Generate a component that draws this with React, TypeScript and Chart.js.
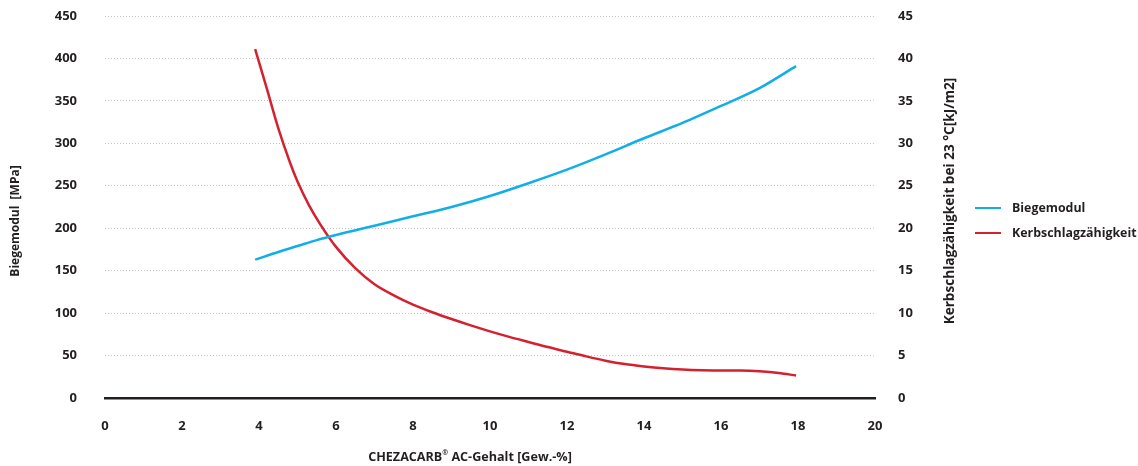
import React, { useEffect, useRef } from "react";
import { Chart, registerables } from "chart.js";

Chart.register(...registerables);

const biegeX = [3.9, 4.5, 5.0, 5.5, 6.0, 7.0, 8.0, 9.0, 10.0, 11.0, 12.0, 13.0, 14.0, 15.0, 16.0, 17.0, 17.95];
const biegeY = [163, 172, 179, 186, 192, 203, 214, 225, 238, 253, 269, 287, 306, 324, 344, 365, 391];

const kerbX = [3.9, 4.2, 4.5, 4.8, 5.0, 5.3, 5.6, 6.0, 6.5, 7.0, 7.5, 8.0, 8.5, 9.0, 9.5, 10.0, 10.5, 11.0, 11.5, 12.0, 12.5, 13.0, 13.5, 14.0, 14.5, 15.0, 15.5, 16.0, 16.5, 17.0, 17.5, 17.95];
const kerbY = [41.1, 36.5, 31.8, 27.8, 25.5, 22.7, 20.4, 17.8, 15.3, 13.4, 12.1, 11.0, 10.1, 9.3, 8.55, 7.85, 7.2, 6.6, 6.0, 5.45, 4.9, 4.4, 4.0, 3.72, 3.5, 3.35, 3.27, 3.25, 3.24, 3.15, 2.95, 2.65];

const seriesNames = ["Biegemodul", "Kerbschlagzähigkeit"];
const leftTitle = "Biegemodul  [MPa]";
const rightTitle = "Kerbschlagzähigkeit bei 23 °C[kJ/m2]";
const xTitleParts = ["CHEZACARB", "®", " AC-Gehalt [Gew.-%]"];

const BLUE = "#12aee8";
const RED = "#d42130";
const TEXT = "#231f20";
const FONT = "'Open Sans'";

const extrasPlugin = {
  id: "extras",
  afterDraw(chart: any) {
    const ctx = chart.ctx;
    ctx.save();
    ctx.fillStyle = TEXT;
    ctx.textBaseline = "middle";
    ctx.textAlign = "center";
    ctx.font = `bold 12px ${FONT}`;
    ctx.save();
    ctx.translate(16, 221);
    ctx.rotate(-Math.PI / 2);
    ctx.fillText(leftTitle, 0, 0);
    ctx.restore();
    ctx.font = `bold 13.6px ${FONT}`;
    ctx.save();
    ctx.translate(950, 201);
    ctx.rotate(-Math.PI / 2);
    ctx.fillText(rightTitle, 0, 0);
    ctx.restore();
    ctx.textAlign = "left";
    const big = `bold 12.6px ${FONT}`;
    const small = `bold 7px ${FONT}`;
    ctx.font = big;
    const w0 = ctx.measureText(xTitleParts[0]).width;
    const w2 = ctx.measureText(xTitleParts[2]).width;
    ctx.font = small;
    const w1 = ctx.measureText(xTitleParts[1]).width;
    const total = w0 + w1 + w2;
    let x = 470 - total / 2;
    const y = 457;
    ctx.font = big;
    ctx.fillText(xTitleParts[0], x, y);
    x += w0;
    ctx.font = small;
    ctx.fillText(xTitleParts[1], x, y - 4);
    x += w1;
    ctx.font = big;
    ctx.fillText(xTitleParts[2], x, y);
    const colors = [BLUE, RED];
    const ys = [208, 233];
    ctx.font = `bold 12.4px ${FONT}`;
    for (let i = 0; i < seriesNames.length; i++) {
      ctx.strokeStyle = colors[i];
      ctx.lineWidth = 2;
      ctx.beginPath();
      ctx.moveTo(975, ys[i]);
      ctx.lineTo(1001, ys[i]);
      ctx.stroke();
      ctx.fillStyle = TEXT;
      ctx.fillText(seriesNames[i], 1012, ys[i]);
    }
    ctx.restore();
  },
};

export default function App() {
  const ref = useRef<HTMLCanvasElement | null>(null);
  useEffect(() => {
    document.body.style.margin = "0";
    document.body.style.overflow = "hidden";
    const canvas = ref.current!;
    const tickFont = { family: FONT, weight: "bold", size: 13 };
    const chart = new Chart(canvas, {
      type: "line",
      data: {
        datasets: [
          {
            label: seriesNames[0],
            data: biegeX.map((x, i) => ({ x, y: biegeY[i] })),
            borderColor: BLUE,
            backgroundColor: BLUE,
            borderWidth: 2.5,
            pointRadius: 0,
            cubicInterpolationMode: "monotone",
            yAxisID: "y",
          },
          {
            label: seriesNames[1],
            data: kerbX.map((x, i) => ({ x, y: kerbY[i] })),
            borderColor: RED,
            backgroundColor: RED,
            borderWidth: 2.5,
            pointRadius: 0,
            cubicInterpolationMode: "monotone",
            yAxisID: "y1",
          },
        ],
      },
      options: {
        animation: false,
        responsive: true,
        maintainAspectRatio: false,
        layout: { padding: { top: 16, left: 0, right: 0, bottom: 0 } },
        plugins: { legend: { display: false }, tooltip: { enabled: false } },
        scales: {
          x: {
            type: "linear",
            min: 0,
            max: 20,
            ticks: { stepSize: 2, padding: 20, color: TEXT, font: tickFont },
            grid: { display: false, drawTicks: false },
            border: { display: true, color: TEXT, width: 2.5 },
            afterFit: (s: any) => { s.height = 68; },
          },
          y: {
            position: "left",
            min: 0,
            max: 450,
            ticks: { stepSize: 50, padding: 8, color: TEXT, font: tickFont },
            grid: { color: "#c4c4c4", lineWidth: 1, drawTicks: true, tickLength: 20, tickColor: "rgba(0,0,0,0)" },
            border: { display: false, dash: [1, 2] },
            afterFit: (s: any) => { s.width = 105; },
          },
          y1: {
            position: "right",
            min: 0,
            max: 45,
            ticks: { stepSize: 5, padding: 8, color: TEXT, font: tickFont },
            grid: { display: false, drawTicks: true, tickLength: 15, tickColor: "rgba(0,0,0,0)" },
            border: { display: false },
            afterFit: (s: any) => { s.width = 263; },
          },
        },
      },
      plugins: [extrasPlugin],
    } as any);
    return () => chart.destroy();
  }, []);
  return (
    <div style={{ position: "fixed", left: 0, top: 0, width: 1138, height: 466 }}>
      <canvas ref={ref} />
    </div>
  );
}
